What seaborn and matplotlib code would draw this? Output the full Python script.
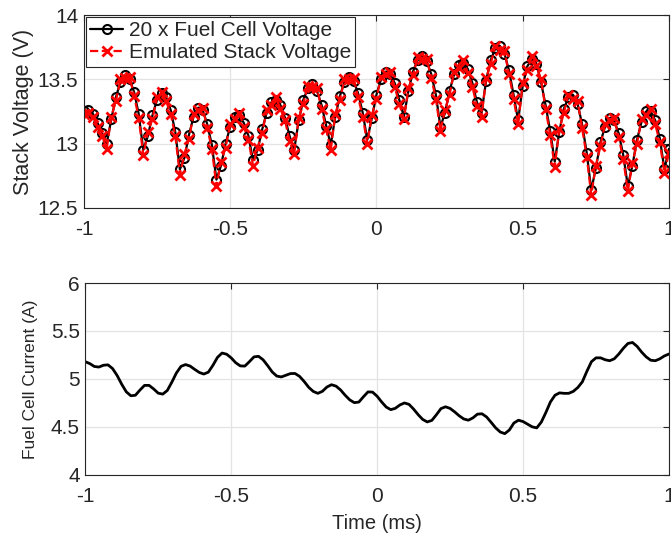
import numpy as np
import pandas as pd
import matplotlib
matplotlib.use('Agg')
import matplotlib.pyplot as plt
import seaborn as sns
from matplotlib.ticker import FormatStrFormatter

# sample times (ms), 1/64 ms apart
time_ms = np.linspace(-1, 1, 129)

fc_voltage_x20 = [13.25, 13.26, 13.23, 13.16, 13.08, 13.00,
                  13.19, 13.36, 13.48, 13.53, 13.50, 13.40, 13.23, 12.95,
                  13.06, 13.22, 13.34, 13.39, 13.36, 13.26, 13.09, 12.80,
                  12.89, 13.07, 13.21, 13.28, 13.26, 13.15, 12.99, 12.72,
                  12.83, 13.00, 13.13, 13.21, 13.22, 13.16, 13.06, 12.87,
                  12.95, 13.11, 13.24, 13.32, 13.34, 13.30, 13.20, 13.06, 12.95,
                  13.18, 13.34, 13.43, 13.46, 13.41, 13.30, 13.14, 12.99,
                  13.21, 13.37, 13.48, 13.52, 13.49, 13.39, 13.24, 13.03,
                  13.20, 13.38, 13.50, 13.56, 13.54, 13.47, 13.34, 13.21,
                  13.41, 13.56, 13.65, 13.68, 13.64, 13.54, 13.38, 13.13,
                  13.24, 13.41, 13.54, 13.61, 13.63, 13.58, 13.47, 13.32, 13.24,
                  13.49, 13.65, 13.74, 13.76, 13.70, 13.57, 13.38, 13.18,
                  13.45, 13.60, 13.66, 13.62, 13.48, 13.30, 13.10, 12.86,
                  13.09, 13.27, 13.36, 13.38, 13.31, 13.15, 12.93, 12.64,
                  12.81, 13.01, 13.13, 13.20, 13.18, 13.08, 12.91, 12.67,
                  12.83, 13.03, 13.17, 13.25, 13.25, 13.18, 13.04, 12.80, 12.96]

stack_voltage = [13.23, 13.24, 13.21, 13.13, 13.06, 12.96,
                 13.21, 13.33, 13.50, 13.51, 13.52, 13.37, 13.20, 12.91,
                 13.09, 13.19, 13.36, 13.40, 13.33, 13.23, 13.06, 12.76,
                 12.92, 13.04, 13.23, 13.26, 13.28, 13.12, 12.96, 12.67,
                 12.86, 12.97, 13.15, 13.19, 13.24, 13.13, 13.03, 12.83,
                 12.97, 13.08, 13.26, 13.30, 13.36, 13.27, 13.18, 13.02, 12.92,
                 13.20, 13.31, 13.45, 13.44, 13.43, 13.27, 13.11, 12.95,
                 13.23, 13.34, 13.50, 13.50, 13.51, 13.36, 13.21, 13.00,
                 13.22, 13.35, 13.52, 13.54, 13.56, 13.44, 13.31, 13.19,
                 13.43, 13.53, 13.67, 13.66, 13.66, 13.51, 13.35, 13.10,
                 13.26, 13.38, 13.56, 13.59, 13.65, 13.55, 13.44, 13.29, 13.21,
                 13.51, 13.62, 13.76, 13.73, 13.72, 13.54, 13.35, 13.15,
                 13.47, 13.57, 13.68, 13.60, 13.50, 13.27, 13.07, 12.82,
                 13.11, 13.24, 13.38, 13.35, 13.33, 13.12, 12.90, 12.60,
                 12.83, 12.98, 13.15, 13.18, 13.20, 13.05, 12.88, 12.63,
                 12.85, 13.00, 13.19, 13.22, 13.27, 13.15, 13.01, 12.77, 12.93]

fc_current = [5.18, 5.16, 5.13, 5.124, 5.143, 5.147, 5.108, 5.036, 4.945, 4.866,
              4.825, 4.83, 4.884, 4.933, 4.933, 4.896, 4.852, 4.842, 4.88, 4.967,
              5.063, 5.131, 5.15, 5.134, 5.10, 5.068, 5.051, 5.071, 5.142, 5.225,
              5.27, 5.258, 5.22, 5.169, 5.136, 5.134, 5.18, 5.23, 5.236, 5.20,
              5.139, 5.073, 5.03, 5.021, 5.038, 5.056, 5.057, 5.027, 4.974, 4.913,
              4.87, 4.85, 4.871, 4.916, 4.94, 4.925, 4.885, 4.83, 4.782, 4.753,
              4.759, 4.814, 4.865, 4.863, 4.82, 4.76, 4.707, 4.68, 4.694, 4.729,
              4.75, 4.735, 4.686, 4.628, 4.578, 4.552, 4.568, 4.627, 4.691, 4.71,
              4.693, 4.657, 4.616, 4.583, 4.57, 4.594, 4.633, 4.637, 4.604, 4.548,
              4.49, 4.447, 4.43, 4.468, 4.541, 4.57, 4.556, 4.528, 4.501, 4.49,
              4.55, 4.65, 4.76, 4.83, 4.855, 4.85, 4.85, 4.87, 4.91, 4.97,
              5.08, 5.18, 5.22, 5.22, 5.20, 5.19, 5.21, 5.26, 5.32, 5.37,
              5.38, 5.34, 5.28, 5.23, 5.195, 5.19, 5.21, 5.24, 5.26]

df = pd.DataFrame({'t': time_ms, 'vfc': fc_voltage_x20,
                   'vst': stack_voltage, 'ifc': fc_current})

sns.set_style('whitegrid')
plt.rcParams['font.family'] = ['Liberation Sans', 'DejaVu Sans']
plt.rcParams['axes.unicode_minus'] = False

fig = plt.figure(figsize=(6.71, 5.36), dpi=100)
ax1 = fig.add_axes([0.125, 0.612, 0.872, 0.36])
ax2 = fig.add_axes([0.127, 0.114, 0.870, 0.358])

sns.lineplot(data=df, x='t', y='vfc', ax=ax1, color='black', lw=1.6,
             marker='o', ms=6.5, mfc='none', mec='black', mew=1.5,
             label='20 x Fuel Cell Voltage')
sns.lineplot(data=df, x='t', y='vst', ax=ax1, color='red', lw=1.6,
             linestyle='--', marker='x', ms=7, mec='red', mew=2,
             label='Emulated Stack Voltage')
sns.lineplot(data=df, x='t', y='ifc', ax=ax2, color='black', lw=2)

for ax in (ax1, ax2):
    ax.set_xlim(-1, 1)
    ax.set_xticks([-1, -0.5, 0, 0.5, 1])
    ax.xaxis.set_major_formatter(FormatStrFormatter('%g'))
    ax.yaxis.set_major_formatter(FormatStrFormatter('%g'))
    ax.grid(True, color='#e3e3e3', lw=0.9)
    ax.tick_params(direction='in', length=4, width=0.8, color='#262626',
                   labelsize=15, labelcolor='#262626', top=True, right=True)
    ax.tick_params(axis='y', pad=4)
    ax.tick_params(axis='x', pad=8.5)
    for sp in ax.spines.values():
        sp.set_color('#262626')
        sp.set_linewidth(0.8)

ax1.set_ylim(12.5, 14)
ax1.set_yticks([12.5, 13, 13.5, 14])
ax1.set_xlabel('')
ax1.set_ylabel('Stack Voltage (V)', fontsize=15.5, color='#262626', labelpad=3)

ax2.set_ylim(4, 6)
ax2.set_yticks([4, 4.5, 5, 5.5, 6])
ax2.set_xlabel('Time (ms)', fontsize=14.5, color='#262626', labelpad=6)
ax2.set_ylabel('Fuel Cell Current (A)', fontsize=12.5, color='#262626', labelpad=9)

leg = ax1.legend(loc='upper left', fontsize=15, frameon=True, fancybox=False,
                 borderpad=0.2, labelspacing=0.15, handlelength=1.6,
                 handletextpad=0.25, borderaxespad=0.1)
leg.get_frame().set_edgecolor('#262626')
leg.get_frame().set_linewidth(0.8)
leg.get_frame().set_alpha(1)

fig.savefig('out.png', dpi=100)
